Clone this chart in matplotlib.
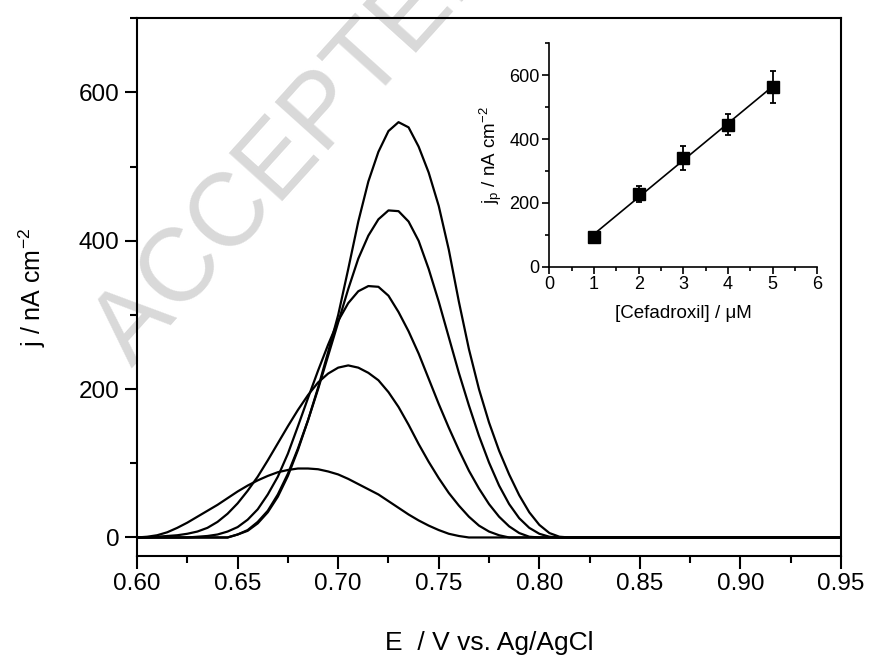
import numpy as np
import matplotlib
matplotlib.use('Agg')
import matplotlib.pyplot as plt
from matplotlib.ticker import MultipleLocator, FormatStrFormatter

plt.rcParams['font.family'] = ['Liberation Sans', 'DejaVu Sans']
plt.rcParams['mathtext.fontset'] = 'custom'
plt.rcParams['mathtext.rm'] = 'Liberation Sans'
plt.rcParams['mathtext.it'] = 'Liberation Sans:italic'

# --- DPV curves (E / V, j / nA cm-2) ---
E1 = [0.600, 0.605, 0.610, 0.615, 0.620, 0.625, 0.630, 0.635, 0.640, 0.645, 0.650, 0.655,
      0.660, 0.665, 0.670, 0.675, 0.680, 0.685, 0.690, 0.695, 0.700, 0.705, 0.710, 0.715,
      0.720, 0.725, 0.730, 0.735, 0.740, 0.745, 0.750, 0.755, 0.760, 0.765, 0.950]
j1 = [0, 1, 3, 7, 13, 20, 28, 36, 44, 53, 62, 70,
      77, 83, 88, 91, 93, 93, 92, 89, 85, 79, 72, 65,
      58, 49, 40, 31, 23, 16, 10, 5, 2, 0, 0]

E2 = [0.600, 0.605, 0.610, 0.615, 0.620, 0.625, 0.630, 0.635, 0.640, 0.645, 0.650, 0.655,
      0.660, 0.665, 0.670, 0.675, 0.680, 0.685, 0.690, 0.695, 0.700, 0.705, 0.710, 0.715,
      0.720, 0.725, 0.730, 0.735, 0.740, 0.745, 0.750, 0.755, 0.760, 0.765, 0.770, 0.775,
      0.780, 0.785, 0.950]
j2 = [0, 0, 1, 2, 3, 5, 8, 13, 21, 32, 46, 63,
      82, 104, 127, 150, 172, 192, 209, 221, 229, 232, 229, 222,
      212, 196, 176, 152, 126, 102, 80, 60, 43, 28, 16, 8,
      3, 0, 0]

E3 = [0.600, 0.625, 0.630, 0.635, 0.640, 0.645, 0.650, 0.655, 0.660, 0.665, 0.670, 0.675,
      0.680, 0.685, 0.690, 0.695, 0.700, 0.705, 0.710, 0.715, 0.720, 0.725, 0.730, 0.735,
      0.740, 0.745, 0.750, 0.755, 0.760, 0.765, 0.770, 0.775, 0.780, 0.785, 0.790, 0.795,
      0.800, 0.950]
j3 = [0, 0, 1, 2, 4, 8, 14, 24, 38, 58, 82, 113,
      150, 188, 225, 260, 292, 316, 332, 339, 338, 326, 304, 278,
      248, 214, 180, 148, 118, 90, 66, 45, 28, 15, 6, 1,
      0, 0]

E4 = [0.600, 0.645, 0.650, 0.655, 0.660, 0.665, 0.670, 0.675, 0.680, 0.685, 0.690, 0.695,
      0.700, 0.705, 0.710, 0.715, 0.720, 0.725, 0.730, 0.735, 0.740, 0.745, 0.750, 0.755,
      0.760, 0.765, 0.770, 0.775, 0.780, 0.785, 0.790, 0.795, 0.800, 0.805, 0.810, 0.950]
j4 = [0, 0, 4, 10, 21, 36, 58, 86, 120, 158, 200, 245,
      290, 335, 376, 407, 429, 441, 440, 426, 400, 362, 318, 270,
      222, 178, 137, 101, 70, 45, 26, 13, 5, 1, 0, 0]

E5 = [0.600, 0.645, 0.650, 0.655, 0.660, 0.665, 0.670, 0.675, 0.680, 0.685, 0.690, 0.695,
      0.700, 0.705, 0.710, 0.715, 0.720, 0.725, 0.730, 0.735, 0.740, 0.745, 0.750, 0.755,
      0.760, 0.765, 0.770, 0.775, 0.780, 0.785, 0.790, 0.795, 0.800, 0.805, 0.810, 0.815,
      0.950]
j5 = [0, 0, 4, 9, 19, 34, 55, 83, 118, 158, 202, 250,
      300, 362, 426, 480, 520, 548, 560, 553, 527, 492, 447, 388,
      318, 254, 200, 155, 117, 85, 57, 34, 17, 6, 1, 0,
      0]

curvas = [(E1, j1), (E2, j2), (E3, j3), (E4, j4), (E5, j5)]

# --- Inset: calibration data ---
conc = [1, 2, 3, 4, 5]
jp = [92, 228, 340, 445, 562]
jp_err = [6, 26, 37, 32, 50]

fig = plt.figure(figsize=(8.69, 6.57), dpi=100)

# marca de agua
fig.text(0.152, 0.44, 'ACCEPTED MANUSCRIPT', fontsize=74, color='#d9d9d9',
         rotation=48, rotation_mode='anchor', ha='left', va='baseline', zorder=-1)

ax = fig.add_axes([0.1577, 0.1537, 0.8101, 0.8184])
ax.patch.set_alpha(0)
for E, j in curvas:
    ax.plot(E, j, color='black', linewidth=1.6)

ax.set_xlim(0.60, 0.95)
ax.set_ylim(-25, 700)
ax.xaxis.set_major_locator(MultipleLocator(0.05))
ax.xaxis.set_minor_locator(MultipleLocator(0.025))
ax.xaxis.set_major_formatter(FormatStrFormatter('%.2f'))
ax.yaxis.set_major_locator(MultipleLocator(200))
ax.yaxis.set_minor_locator(MultipleLocator(100))
ax.tick_params(which='both', direction='out', width=1.5, labelsize=17.5, top=False, right=False)
ax.tick_params(which='major', length=9)
ax.tick_params(which='minor', length=5)
for s in ax.spines.values():
    s.set_linewidth(1.5)
ax.set_xlabel('E  / V vs. Ag/AgCl', fontsize=19, labelpad=26)
ax.set_ylabel(r'j / nA cm$^{-2}$', fontsize=18, labelpad=22)

# --- inset ---
axi = fig.add_axes([0.6321, 0.5941, 0.3084, 0.3400])
axi.patch.set_alpha(0)
pend, inter = np.polyfit(conc, jp, 1)
xfit = np.array([conc[0], conc[-1]])
axi.plot(xfit, pend * xfit + inter, color='black', linewidth=1.2)
axi.errorbar(conc, jp, yerr=jp_err, fmt='s', color='black', markersize=9,
             elinewidth=1.3, capsize=2, capthick=1.3)
axi.set_xlim(0, 6)
axi.set_ylim(0, 700)
axi.xaxis.set_major_locator(MultipleLocator(1))
axi.xaxis.set_minor_locator(MultipleLocator(0.5))
axi.yaxis.set_major_locator(MultipleLocator(200))
axi.yaxis.set_minor_locator(MultipleLocator(100))
axi.spines['top'].set_visible(False)
axi.spines['right'].set_visible(False)
for s in ['left', 'bottom']:
    axi.spines[s].set_linewidth(1.2)
axi.tick_params(which='both', direction='out', width=1.2, labelsize=13, pad=2)
axi.tick_params(which='major', length=5)
axi.tick_params(which='minor', length=3)
axi.set_xlabel('[Cefadroxil] / μM', fontsize=13.5, labelpad=8)
axi.set_ylabel(r'j$_{\mathrm{p}}$ / nA cm$^{-2}$', fontsize=13.5, labelpad=4)

fig.savefig('out.png', dpi=100)
